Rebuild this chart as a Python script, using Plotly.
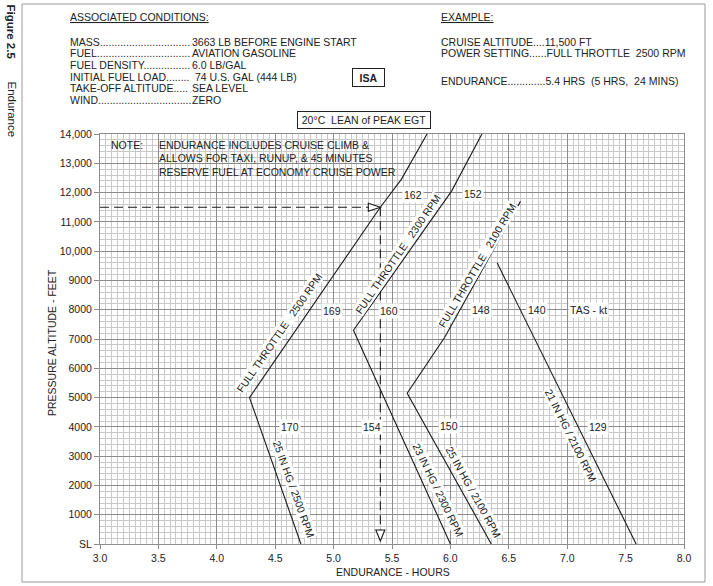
import plotly.graph_objects as go

# ---------------- data ----------------
# 2500 RPM: 25 IN HG segment (SL -> 5000 ft) then FULL THROTTLE
rpm2500_hours = [4.72, 4.28, 5.40, 5.58, 5.80]
rpm2500_alt = [0, 5000, 11500, 12450, 14000]
# 2300 RPM: 23 IN HG segment then FULL THROTTLE
rpm2300_hours = [6.00, 5.17, 6.01, 6.27]
rpm2300_alt = [0, 7300, 12050, 14000]
# 2100 RPM: 25 IN HG segment then FULL THROTTLE
rpm2100_hours = [6.35, 5.63, 5.95, 6.60]
rpm2100_alt = [0, 5150, 7050, 11700]
# 21 IN HG / 2100 RPM
inhg21_hours = [7.59, 6.40]
inhg21_alt = [0, 9600]

# example
example_alt = 11500
example_endurance = 5.4

# TAS labels (value, hours, altitude)
tas_values = ["162", "152", "169", "160", "148", "140", "170", "154", "150", "129"]
tas_hours = [5.68, 6.19, 4.99, 5.47, 6.26, 6.74, 4.63, 5.33, 5.99, 7.26]
tas_alt = [11920, 11940, 7970, 7970, 8000, 8000, 4000, 3990, 4040, 3980]

# line labels (text, hours, altitude, angle)
line_labels = ["FULL THROTTLE\u00a0\u00a0 2500 RPM", "FULL THROTTLE\u00a0\u00a0 2300 RPM",
               "FULL THROTTLE\u00a0\u00a0 2100 RPM", "25 IN HG / 2500 RPM",
               "23 IN HG / 2300 RPM", "25 IN HG / 2100 RPM", "21 IN HG / 2100 RPM"]
line_label_hours = [4.53, 5.55, 6.23, 4.66, 5.895, 6.20, 7.03]
line_label_alt = [7220, 9900, 9530, 1880, 1840, 1790, 3720]
line_label_angle = [-55.5, -55.5, -59.5, 70, 64, 61, 63.5]

x_ticks = [3.0, 3.5, 4.0, 4.5, 5.0, 5.5, 6.0, 6.5, 7.0, 7.5, 8.0]
x_ticktext = ["3.0", "3.5", "4.0", "4.5", "5.0", "5.5", "6.0", "6.5", "7.0", "7.5", "8.0"]
y_ticks = list(range(0, 14001, 1000))
y_ticktext = ["SL", "1000", "2000", "3000", "4000", "5000", "6000", "7000", "8000", "9000",
              "10,000", "11,000", "12,000", "13,000", "14,000"]

cond_labels = ["MASS" + "." * 31, "FUEL" + "." * 32, "FUEL DENSITY" + "." * 16,
               "INITIAL FUEL LOAD" + "." * 8, "TAKE-OFF ALTITUDE" + "." * 5, "WIND" + "." * 32]
cond_values = ["3663 LB BEFORE ENGINE START", "AVIATION GASOLINE", "6.0 LB/GAL",
               " 74 U.S. GAL (444 LB)", "SEA LEVEL", "ZERO"]
example_lines = ["CRUISE ALTITUDE....11,500 FT",
                 "POWER SETTING......FULL THROTTLE\u00a0\u00a02500 RPM",
                 "ENDURANCE.............5.4 HRS\u00a0\u00a0(5 HRS,\u00a0\u00a024 MINS)"]
note_lines = ["ENDURANCE INCLUDES CRUISE CLIMB &",
              "ALLOWS FOR TAXI, RUNUP, & 45 MINUTES",
              "RESERVE FUEL AT ECONOMY CRUISE POWER"]

# ---------------- layout helpers ----------------
W, H = 713, 586
ML, MR, MT, MB = 100, 29, 134, 42
PW, PH = W - ML - MR, H - MT - MB
FONT = "Liberation Sans, Arial, sans-serif"
TXT = "#222222"


def px(x):
    return (x - ML) / PW


def py(y):
    return (H - MB - y) / PH


fig = go.Figure()

line_style = dict(color="#1a1a1a", width=1.1)
for hx, ay in [(rpm2500_hours, rpm2500_alt), (rpm2300_hours, rpm2300_alt),
               (rpm2100_hours, rpm2100_alt), (inhg21_hours, inhg21_alt)]:
    fig.add_trace(go.Scatter(x=hx, y=ay, mode="lines", line=line_style,
                             hoverinfo="skip", showlegend=False))

dash_style = dict(color="#1a1a1a", width=1.1, dash="9px,5px")
fig.add_trace(go.Scatter(x=[3.0, example_endurance], y=[example_alt, example_alt], mode="lines",
                         line=dash_style, hoverinfo="skip", showlegend=False))
fig.add_trace(go.Scatter(x=[example_endurance, example_endurance], y=[example_alt, 400], mode="lines",
                         line=dash_style, hoverinfo="skip", showlegend=False))

shapes = []
# outer frame
shapes.append(dict(type="rect", xref="paper", yref="paper", x0=px(22), x1=px(705), y0=py(582), y1=py(4),
                   line=dict(color="#9a9a9a", width=1), layer="below"))
# note white box
shapes.append(dict(type="rect", xref="paper", yref="paper", x0=px(103), x1=px(400), y0=py(177), y1=py(136),
                   fillcolor="white", line=dict(width=0), layer="between"))
# arrowheads
shapes.append(dict(type="path", xref="x", yref="y", xsizemode="pixel", ysizemode="pixel",
                   xanchor=example_endurance, yanchor=example_alt,
                   path="M-12,4 L0,0 L-12,-4 Z", fillcolor="white",
                   line=dict(color="#1a1a1a", width=1.1), layer="above"))
shapes.append(dict(type="path", xref="x", yref="y", xsizemode="pixel", ysizemode="pixel",
                   xanchor=example_endurance, yanchor=0,
                   path="M-4.5,14 L4.5,14 L0,3 Z", fillcolor="white",
                   line=dict(color="#1a1a1a", width=1.1), layer="above"))

ann = []


def A(text, x, y, xanchor="left", size=10.5, **kw):
    d = dict(text=text, xref="paper", yref="paper", x=px(x), y=py(y), xanchor=xanchor,
             yanchor="middle", showarrow=False, font=dict(family=FONT, size=size, color=TXT))
    d.update(kw)
    ann.append(d)


A("<b>Figure 2.5</b>", 11, 31.5, xanchor="center", size=11.5, textangle=90)
A("Endurance", 11, 109.5, xanchor="center", size=11.5, textangle=90)
A("<u>ASSOCIATED CONDITIONS:</u>", 68, 17)
cond_y = [41.7, 53.3, 65, 76.7, 88.3, 100]
for lab, val, yy in zip(cond_labels, cond_values, cond_y):
    A(lab, 68, yy)
    A(val, 190.7, yy, bgcolor="white", borderpad=0)
A("<b>ISA</b>", 368, 77.5, xanchor="center", bordercolor="#222222", borderwidth=1,
  borderpad=3, width=25, height=11)
A("<u>EXAMPLE:</u>", 439, 17)
for t, yy in zip(example_lines, [41.7, 53.3, 81]):
    A(t, 439, yy)
A("20°C\u00a0\u00a0LEAN of PEAK EGT", 363.7, 120.5, xanchor="center", bordercolor="#222222",
  borderwidth=1, borderpad=2, width=128, height=12, bgcolor="white")
A("NOTE:", 109, 145)
for t, yy in zip(note_lines, [145, 158.3, 171.7]):
    A(t, 156.7, yy)
A("PRESSURE ALTITUDE - FEET", 52, 343, xanchor="center", textangle=-90)
A("ENDURANCE - HOURS", 393, 572, xanchor="center")

for t, hx, ay in zip(tas_values, tas_hours, tas_alt):
    ann.append(dict(text=t, x=hx, y=ay, xref="x", yref="y", showarrow=False, xanchor="center",
                    yanchor="middle", bgcolor="white", borderpad=1,
                    font=dict(family=FONT, size=10.5, color=TXT)))
ann.append(dict(text="TAS - kt", x=7.18, y=8000, xref="x", yref="y", showarrow=False, xanchor="center",
                yanchor="middle", bgcolor="white", borderpad=1,
                font=dict(family=FONT, size=10.5, color=TXT)))
for t, hx, ay, ang in zip(line_labels, line_label_hours, line_label_alt, line_label_angle):
    ann.append(dict(text=t, x=hx, y=ay, xref="x", yref="y", showarrow=False, xanchor="center",
                    yanchor="middle", textangle=ang, bgcolor="white", borderpad=0,
                    font=dict(family=FONT, size=10.5, color=TXT)))

fig.update_layout(
    width=W, height=H, margin=dict(l=ML, r=MR, t=MT, b=MB),
    paper_bgcolor="white", plot_bgcolor="white",
    font=dict(family=FONT, size=10.5, color=TXT),
    showlegend=False, shapes=shapes, annotations=ann,
    xaxis=dict(range=[3, 8], tickvals=x_ticks, ticktext=x_ticktext, showgrid=True,
               gridcolor="#8c8c8c", gridwidth=1, zeroline=False, ticks="outside", ticklen=4,
               tickcolor="#8c8c8c", showline=True, linecolor="#8c8c8c", mirror=True,
               minor=dict(tickmode="linear", tick0=3, dtick=0.05, showgrid=True,
                          gridcolor="#c9c9c9", gridwidth=1),
               tickfont=dict(family=FONT, size=10.5, color=TXT), fixedrange=True),
    yaxis=dict(range=[0, 14000], tickvals=y_ticks, ticktext=y_ticktext, showgrid=True,
               gridcolor="#8c8c8c", gridwidth=1, zeroline=False, ticks="outside", ticklen=5,
               tickcolor="#8c8c8c", showline=True, linecolor="#8c8c8c", mirror=True,
               minor=dict(tickmode="linear", tick0=0, dtick=200, showgrid=True,
                          gridcolor="#c9c9c9", gridwidth=1),
               tickfont=dict(family=FONT, size=10.5, color=TXT), fixedrange=True),
)

fig.write_html("out.html", config={"displayModeBar": False},
               post_script="document.body.style.margin='0px';document.body.style.overflow='hidden';")
